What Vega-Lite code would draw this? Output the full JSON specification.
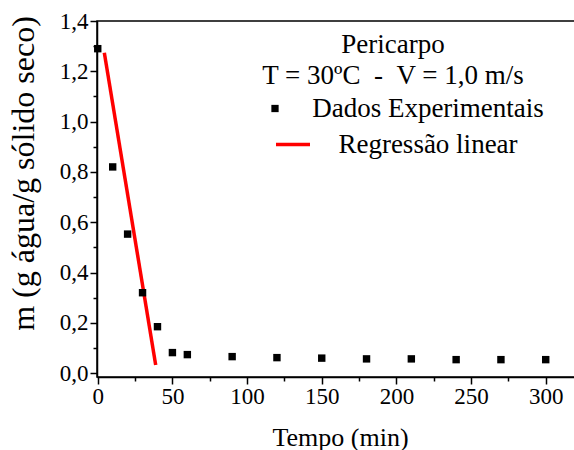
{
  "$schema": "https://vega.github.io/schema/vega-lite/v6.json",
  "width": 478,
  "height": 356,
  "autosize": {"type": "none"},
  "padding": {"left": 97, "top": 21, "right": 0, "bottom": 73},
  "background": "white",
  "config": {
    "view": {"stroke": "black", "strokeWidth": 1.5},
    "font": "Liberation Serif",
    "axis": {"labelFont": "Liberation Serif", "titleFont": "Liberation Serif", "labelColor": "black", "titleColor": "black", "titleFontWeight": "normal"},
    "legend": {"labelFont": "Liberation Serif", "titleFont": "Liberation Serif"}
  },
  "datasets": {
    "dados": [
      {"tempo": 0, "m": 1.29, "serie": "Dados Experimentais"},
      {"tempo": 10, "m": 0.82, "serie": "Dados Experimentais"},
      {"tempo": 20, "m": 0.553, "serie": "Dados Experimentais"},
      {"tempo": 30, "m": 0.32, "serie": "Dados Experimentais"},
      {"tempo": 40, "m": 0.185, "serie": "Dados Experimentais"},
      {"tempo": 50, "m": 0.082, "serie": "Dados Experimentais"},
      {"tempo": 60, "m": 0.074, "serie": "Dados Experimentais"},
      {"tempo": 90, "m": 0.066, "serie": "Dados Experimentais"},
      {"tempo": 120, "m": 0.062, "serie": "Dados Experimentais"},
      {"tempo": 150, "m": 0.06, "serie": "Dados Experimentais"},
      {"tempo": 180, "m": 0.057, "serie": "Dados Experimentais"},
      {"tempo": 210, "m": 0.057, "serie": "Dados Experimentais"},
      {"tempo": 240, "m": 0.054, "serie": "Dados Experimentais"},
      {"tempo": 270, "m": 0.054, "serie": "Dados Experimentais"},
      {"tempo": 300, "m": 0.054, "serie": "Dados Experimentais"}
    ],
    "regressao": [
      {"tempo": 4.4, "m": 1.274, "serie": "Regressão linear"},
      {"tempo": 38.8, "m": 0.033, "serie": "Regressão linear"}
    ]
  },
  "encoding": {
    "x": {
      "field": "tempo", "type": "quantitative",
      "scale": {"domain": [-0.5, 319.6], "nice": false, "zero": false},
      "axis": {
        "title": "Tempo (min)",
        "values": [0, 25, 50, 75, 100, 125, 150, 175, 200, 225, 250, 275, 300],
        "labelExpr": "datum.value % 50 === 0 ? datum.label : ''",
        "grid": false,
        "domainColor": "black", "domainWidth": 1.5,
        "tickColor": "black", "tickWidth": 1.5,
        "tickSize": {"condition": {"test": "datum.value % 50 === 0", "value": 7}, "value": 4},
        "labelFont": "Liberation Serif", "labelFontSize": 23, "labelColor": "black",
        "labelPadding": 1, "labelFlush": false, "labelOverlap": false,
        "titleFont": "Liberation Serif", "titleFontSize": 26, "titleFontWeight": "normal", "titleColor": "black",
        "titleX": 243, "titleY": 68, "titleBaseline": "alphabetic"
      }
    },
    "y": {
      "field": "m", "type": "quantitative",
      "scale": {"domain": [-0.015, 1.4], "nice": false, "zero": false},
      "axis": {
        "title": "m (g água/g sólido seco)",
        "values": [0, 0.1, 0.2, 0.3, 0.4, 0.5, 0.6, 0.7, 0.8, 0.9, 1.0, 1.1, 1.2, 1.3, 1.4],
        "labelExpr": "round(datum.value * 10) % 2 === 0 ? replace(format(datum.value, '.1f'), '.', ',') : ''",
        "grid": false,
        "domainColor": "black", "domainWidth": 1.5,
        "tickColor": "black", "tickWidth": 1.5,
        "tickSize": {"condition": {"test": "round(datum.value * 10) % 2 === 0", "value": 7}, "value": 4},
        "labelFont": "Liberation Serif", "labelFontSize": 23, "labelColor": "black",
        "labelPadding": 2, "labelFlush": false, "labelOverlap": false,
        "titleFont": "Liberation Serif", "titleFontSize": 32, "titleFontWeight": "normal", "titleColor": "black",
        "titleX": -64, "titleY": 152, "titleBaseline": "alphabetic", "titleAngle": -90
      }
    },
    "color": {
      "field": "serie", "type": "nominal",
      "scale": {"domain": ["Dados Experimentais", "Regressão linear"], "range": ["black", "#ff0000"]},
      "legend": {
        "orient": "none", "legendX": 165, "legendY": 11,
        "direction": "vertical", "columns": 1, "padding": 0, "offset": 0,
        "title": ["Pericarpo", "T = 30ºC \u00a0- \u00a0V = 1,0 m/s"],
        "titleFont": "Liberation Serif", "titleFontSize": 27, "titleFontWeight": "normal", "titleColor": "black",
        "titleAnchor": "middle", "titleAlign": "center", "titleLineHeight": 31, "titlePadding": 5, "titleLimit": 500,
        "labelFont": "Liberation Serif", "labelFontSize": 27, "labelColor": "black", "labelAlign": "center",
        "labelLimit": 500, "rowPadding": 8,
        "encode": {
          "symbols": {
            "update": {
              "shape": {"signal": "datum.value === 'Dados Experimentais' ? 'square' : 'stroke'"},
              "size": {"signal": "datum.value === 'Dados Experimentais' ? 53 : 1156"},
              "fill": {"signal": "datum.value === 'Dados Experimentais' ? 'black' : 'transparent'"},
              "stroke": {"signal": "datum.value === 'Dados Experimentais' ? 'transparent' : '#ff0000'"},
              "strokeWidth": {"signal": "datum.value === 'Dados Experimentais' ? 0 : 3.5"},
              "x": {"signal": "datum.value === 'Dados Experimentais' ? 5 : 23"},
              "opacity": {"value": 1}
            }
          },
          "labels": {"update": {"x": {"value": 158}}},
          "title": {"update": {"dx": {"value": -14}}}
        }
      }
    }
  },
  "layer": [
    {
      "data": {"name": "regressao"},
      "mark": {"type": "line", "strokeWidth": 3.5, "strokeCap": "butt"}
    },
    {
      "data": {"name": "dados"},
      "mark": {"type": "point", "shape": "square", "filled": true, "size": 55, "opacity": 1}
    }
  ]
}
